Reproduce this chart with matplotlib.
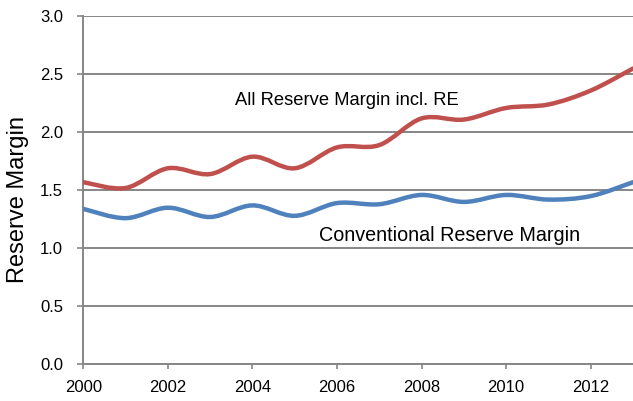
from matplotlib import pyplot as plt
from matplotlib.path import Path
from matplotlib.patches import PathPatch
import numpy as np

years = list(range(2000, 2014))
all_margin = [1.57, 1.52, 1.69, 1.64, 1.79, 1.69, 1.87, 1.89, 2.12, 2.11, 2.21, 2.24, 2.36, 2.55]
conv_margin = [1.34, 1.26, 1.35, 1.27, 1.37, 1.28, 1.39, 1.38, 1.46, 1.40, 1.46, 1.42, 1.45, 1.57]

x_ticks = list(range(2000, 2013, 2))
y_ticks = [0.0, 0.5, 1.0, 1.5, 2.0, 2.5, 3.0]

grid_col = '#868686'
plt.rcParams['font.family'] = ['Liberation Sans', 'DejaVu Sans']


def smooth_path(x, y):
    # excel-style smoothed line: bezier through every point
    pts = np.column_stack([x, y]).astype(float)
    verts = [pts[0]]
    codes = [Path.MOVETO]
    n = len(pts)
    for i in range(n - 1):
        p0 = pts[i - 1] if i > 0 else pts[i]
        p1, p2 = pts[i], pts[i + 1]
        p3 = pts[i + 2] if i + 2 < n else pts[i + 1]
        verts += [p1 + (p2 - p0) / 6, p2 - (p3 - p1) / 6, p2]
        codes += [Path.CURVE4] * 3
    return Path(verts, codes)


fig = plt.figure(figsize=(6.33, 4.01), dpi=100)
ax = fig.add_axes([0.1316, 0.0915, 0.8684, 0.8678])

for vals, col in [(all_margin, '#C0504D'), (conv_margin, '#4F81BD')]:
    patch = PathPatch(smooth_path(years, vals), fill=False, edgecolor=col,
                      lw=3.2, capstyle='round', joinstyle='round', zorder=3)
    ax.add_patch(patch)

ax.set_xlim(2000, 2013)
ax.set_ylim(0, 3.0)
ax.set_xticks(x_ticks)
ax.set_xticklabels([str(t) for t in x_ticks])
ax.set_yticks(y_ticks)
ax.set_yticklabels([f'{t:.1f}' for t in y_ticks])

ax.grid(axis='y', color=grid_col, lw=1.4)
ax.set_axisbelow(True)
for s in ['top', 'right']:
    ax.spines[s].set_visible(False)
for s in ['left', 'bottom']:
    ax.spines[s].set_color(grid_col)
    ax.spines[s].set_linewidth(1.4)

ax.tick_params(axis='y', length=4.5, width=1.2, color=grid_col, pad=10, labelsize=12)
ax.tick_params(axis='x', length=3.6, width=1.2, color=grid_col, pad=8, labelsize=12)

ax.set_ylabel('Reserve Margin', fontsize=17)
ax.yaxis.set_label_coords(-0.098, 0.474)

ax.text(2003.58, 2.237, 'All Reserve Margin incl. RE', fontsize=13.2,
        ha='left', va='baseline')
ax.text(2005.58, 1.06, 'Conventional Reserve Margin', fontsize=14.2,
        ha='left', va='baseline')

fig.savefig('out.png', dpi=100)
